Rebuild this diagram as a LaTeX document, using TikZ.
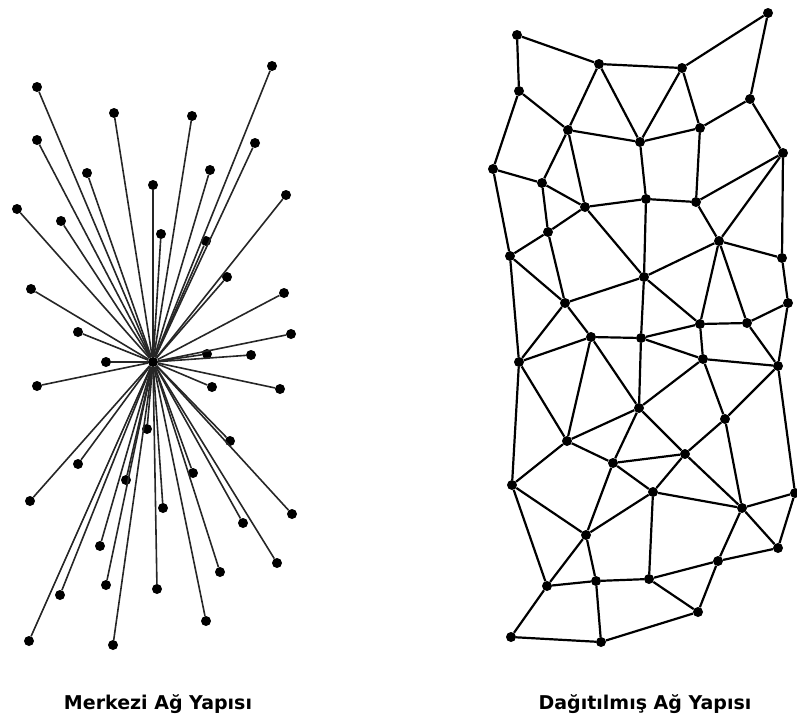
\documentclass[tikz,border=0pt]{standalone}
\usepackage{fontspec}
\setmainfont{DejaVu Sans}

\begin{document}
\begin{tikzpicture}[x=1pt, y=-1pt,
    dot/.style={circle, fill=black, inner sep=0pt, minimum size=10pt},
    spoke/.style={draw=black!85, line width=1.6pt},
    link/.style={draw=black, line width=2.2pt},
    caption/.style={font=\bfseries\fontsize{19}{22}\selectfont, anchor=base}]
    \useasboundingbox (0,0) rectangle (797,718);

    % merkezi
    \node[dot] (c) at (153,362) {};
    \foreach \x/\y [count=\i] in {37/87, 272/66, 114/113, 192/116, 37/140,
        255/143, 87/173, 210/170, 153/185, 286/195, 17/209, 61/221, 161/234,
        206/241, 227/277, 31/289, 284/293, 78/332, 291/334, 207/354, 251/355,
        106/362, 37/386, 212/387, 280/389, 147/429, 230/441, 78/464, 193/473,
        126/480, 30/501, 163/508, 292/514, 243/523, 100/546, 277/563, 220/572,
        106/585, 157/589, 60/595, 206/621, 29/641, 113/645}
      \node[dot] (s\i) at (\x,\y) {};
    \foreach \i in {1,...,43}
      \draw[spoke] (c) -- (s\i);

    % dagitilmis
    \foreach \n/\x/\y in {a1/517/35, a2/599/64, a3/682/68, a4/768/13,
        b1/519/91, b2/750/99, c1/568/130, c2/640/142, c3/700/128, c4/783/153,
        d1/493/169, d2/542/183, e1/585/207, e2/646/199, e3/696/202,
        f1/548/232, f2/719/241, g1/510/256, g2/782/258, h1/644/277,
        i1/565/303, i2/788/303, j1/700/324, j2/747/323, k1/591/337,
        k2/641/338, l1/519/362, l2/703/359, l3/778/366, m1/639/408,
        m2/725/419, n1/567/441, n2/685/454, o1/613/463, p1/512/485,
        p2/653/492, q1/742/508, q2/795/493, r1/586/535, s1/778/548,
        t1/718/561, u1/547/586, u2/596/581, u3/649/579, v1/698/612,
        w1/511/637, w2/601/642}
      \node[dot] (\n) at (\x,\y) {};
    \foreach \a/\b in {a1/b1, a1/a2, a2/a3, a3/a4, a4/b2, a2/c1, a2/c2,
        a3/c2, a3/c3, b1/c1, b1/d1, c1/c2, c2/c3, c3/b2, b2/c4, c1/d2,
        c1/e1, c2/e2, c3/e3, d1/d2, d2/e1, d2/f1, e1/e2, e2/e3, e3/c4,
        e3/f2, c4/f2, c4/g2, d1/g1, f1/e1, e1/h1, e2/h1, f2/g2, f2/h1,
        f2/j1, f2/j2, g1/f1, g1/i1, g1/l1, f1/i1, h1/i1, h1/j1, h1/k2,
        g2/i2, i1/k1, i1/l1, i2/j2, i2/l3, j1/j2, j1/k2, j1/l2, j2/l3,
        k1/l1, k1/k2, k1/m1, k1/n1, k2/l2, k2/m1, l1/n1, l1/p1, l2/l3,
        l2/m1, l2/m2, l3/m2, l3/q2, m1/n1, m1/n2, m1/o1, m2/n2, m2/q1,
        n1/o1, n1/p1, n2/o1, n2/p2, n2/q1, o1/p2, o1/r1, p1/r1, p1/u1,
        p2/q1, p2/r1, p2/u3, q1/q2, q1/s1, q1/t1, q2/s1, r1/u1, r1/u2,
        s1/t1, t1/u3, t1/v1, u1/u2, u1/w1, u2/u3, u2/w2, u3/v1, v1/w2,
        w1/w2}
      \draw[link] (\a) -- (\b);

    \node[caption] (merkezi) at (158,709) {Merkezi Ağ Yapısı};
    \node[caption] (dagitik) at (645,709) {Dağıtılmış Ağ Yapısı};
\end{tikzpicture}
\end{document}
